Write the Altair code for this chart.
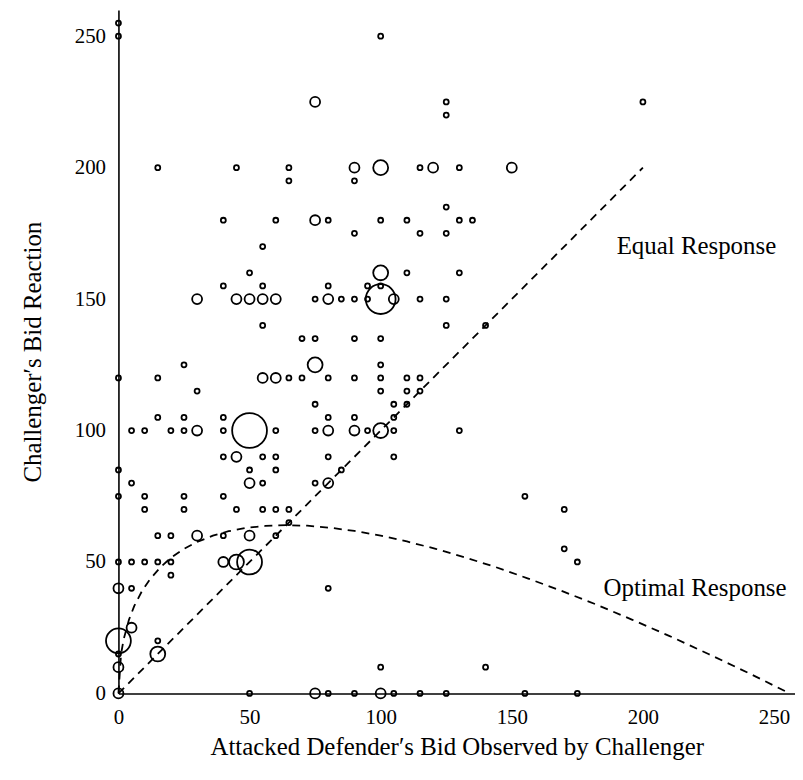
import altair as alt
import pandas as pd

# Observed bids: (defender bid, challenger reaction, number of observations)
obs_x = [0, 0, 100,
         75, 125, 200, 125,
         15, 45, 65, 90, 100, 115, 120, 130, 150,
         65, 90, 125,
         40, 60, 75, 80, 100, 110, 130, 135,
         90, 115, 125, 55,
         50, 100, 110, 130,
         40, 55, 80, 95, 100,
         30, 45, 50, 55, 60, 75, 80, 85, 90, 95, 100, 105, 115, 125,
         55, 125, 140,
         70, 75, 90, 100,
         25, 75, 100,
         0, 15, 55, 60, 65, 70, 80, 90, 100, 110, 115,
         30, 100, 110, 115,
         75, 105, 110,
         15, 25, 40, 80, 90, 105,
         5, 10, 20, 25, 30, 40, 50, 60, 75, 80, 90, 95, 100, 105, 130,
         40, 45, 55, 60, 80, 105,
         0, 50, 60, 85,
         5, 50, 55, 75, 80,
         0, 10, 25, 40, 155,
         10, 25, 45, 55, 60, 65, 170,
         65,
         15, 20, 30, 40, 50, 60,
         170,
         0, 5, 10, 15, 20, 40, 45, 50, 175,
         20,
         0, 5, 80,
         5,
         0, 15,
         0, 15,
         0, 100, 140,
         0, 50, 75, 80, 90, 100, 105, 115, 125, 155, 175]
obs_y = [255, 250, 250,
         225, 225, 225, 220,
         200, 200, 200, 200, 200, 200, 200, 200, 200,
         195, 195, 185,
         180, 180, 180, 180, 180, 180, 180, 180,
         175, 175, 175, 170,
         160, 160, 160, 160,
         155, 155, 155, 155, 155,
         150, 150, 150, 150, 150, 150, 150, 150, 150, 150, 150, 150, 150, 150,
         140, 140, 140,
         135, 135, 135, 135,
         125, 125, 125,
         120, 120, 120, 120, 120, 120, 120, 120, 120, 120, 120,
         115, 115, 115, 115,
         110, 110, 110,
         105, 105, 105, 105, 105, 105,
         100, 100, 100, 100, 100, 100, 100, 100, 100, 100, 100, 100, 100, 100, 100,
         90, 90, 90, 90, 90, 90,
         85, 85, 85, 85,
         80, 80, 80, 80, 80,
         75, 75, 75, 75, 75,
         70, 70, 70, 70, 70, 70, 70,
         65,
         60, 60, 60, 60, 60, 60,
         55,
         50, 50, 50, 50, 50, 50, 50, 50, 50,
         45,
         40, 40, 40,
         25,
         20, 20,
         15, 15,
         10, 10, 10,
         0, 0, 0, 0, 0, 0, 0, 0, 0, 0, 0]
obs_n = [1, 1, 1,
         2, 1, 1, 1,
         1, 1, 1, 2, 3, 1, 2, 1, 2,
         1, 1, 1,
         1, 1, 2, 1, 1, 1, 1, 1,
         1, 1, 1, 1,
         1, 3, 1, 1,
         1, 1, 1, 1, 1,
         2, 2, 2, 2, 2, 1, 2, 1, 1, 1, 6, 2, 1, 1,
         1, 1, 1,
         1, 1, 1, 1,
         1, 3, 1,
         1, 1, 2, 2, 1, 1, 1, 1, 1, 1, 1,
         1, 1, 1, 1,
         1, 1, 1,
         1, 1, 1, 1, 1, 1,
         1, 1, 1, 1, 2, 1, 7, 1, 1, 2, 2, 1, 3, 1, 1,
         1, 2, 1, 1, 1, 1,
         1, 1, 1, 1,
         1, 2, 1, 1, 2,
         1, 1, 1, 1, 1,
         1, 1, 1, 1, 1, 1, 1,
         1,
         1, 1, 2, 1, 2, 1,
         1,
         1, 1, 1, 1, 1, 2, 3, 5, 1,
         1,
         2, 1, 1,
         2,
         5, 1,
         1, 3,
         2, 1, 1,
         2, 1, 2, 1, 1, 2, 1, 1, 1, 1, 1]

# Equal response line
equal_x = [0, 200]
equal_y = [0, 200]

# Optimal response curve
opt_x = [0, 1, 2, 4, 6, 9, 12, 16, 20, 25, 30, 36, 42, 49, 56, 64, 72, 81,
         90, 100, 110, 121, 132, 144, 156, 169, 182, 196, 210, 225, 240, 256]
opt_y = [0, 15, 20.6, 28, 33.2, 39, 43.4, 48, 51.6, 55, 57.6, 60, 61.7, 63,
         63.7, 64, 63.8, 63, 61.8, 60, 57.8, 55, 51.8, 48, 43.8, 39, 33.9, 28,
         21.9, 15, 7.9, 0]

# Annotations
ann_text = ["Equal Response", "Optimal Response"]
ann_x = [190, 185]
ann_y = [170, 40]

FONT = "Liberation Serif"

pts = pd.DataFrame({"x": obs_x, "y": obs_y, "n": obs_n})
eq = pd.DataFrame({"x": equal_x, "y": equal_y})
opt = pd.DataFrame({"x": opt_x, "y": opt_y})
ann = pd.DataFrame({"t": ann_text, "x": ann_x, "y": ann_y})

xscale = alt.Scale(domain=[0, 258], nice=False, zero=False)
yscale = alt.Scale(domain=[0, 260], nice=False, zero=False)

xaxis = alt.Axis(values=[0, 50, 100, 150, 200, 250], ticks=False, grid=False,
                 labelFont=FONT, labelFontSize=21, labelColor="black",
                 labelPadding=13, domainColor="black", domainWidth=1.6,
                 title="Attacked Defender\u2032s Bid Observed by Challenger",
                 titleFont=FONT, titleFontSize=25, titleFontWeight="normal",
                 titleColor="black", titlePadding=7, labelFlush=False)
yaxis = alt.Axis(values=[0, 50, 100, 150, 200, 250], ticks=False, grid=False,
                 labelFont=FONT, labelFontSize=21, labelColor="black",
                 labelPadding=13, domainColor="black", domainWidth=1.6,
                 title="Challenger\u2032s Bid Reaction",
                 titleFont=FONT, titleFontSize=25, titleFontWeight="normal",
                 titleColor="black", titlePadding=29, labelFlush=False)

points = alt.Chart(pts).mark_point(shape="circle", filled=False, color="black",
                                   strokeWidth=1.8, opacity=1).encode(
    x=alt.X("x:Q", scale=xscale, axis=xaxis),
    y=alt.Y("y:Q", scale=yscale, axis=yaxis),
    size=alt.Size("n:Q", scale=alt.Scale(type="pow", exponent=2, domain=[0, 7],
                                         range=[0, 1225]), legend=None),
)

eq_line = alt.Chart(eq).mark_line(color="black", strokeWidth=1.8,
                                  strokeDash=[8, 6]).encode(
    x=alt.X("x:Q", scale=xscale), y=alt.Y("y:Q", scale=yscale))

opt_line = alt.Chart(opt).mark_line(color="black", strokeWidth=1.8,
                                    strokeDash=[8, 6]).encode(
    x=alt.X("x:Q", scale=xscale), y=alt.Y("y:Q", scale=yscale))

labels = alt.Chart(ann).mark_text(align="left", baseline="middle", font=FONT,
                                  fontSize=25, color="black").encode(
    x=alt.X("x:Q", scale=xscale), y=alt.Y("y:Q", scale=yscale), text="t:N")

chart = alt.layer(eq_line, opt_line, points, labels).properties(
    width=680, height=687,
    padding={"left": 12, "top": 0, "right": 0, "bottom": 0},
).configure_view(stroke=None)

chart.save("out.html", embed_options={"renderer": "svg", "actions": False})
